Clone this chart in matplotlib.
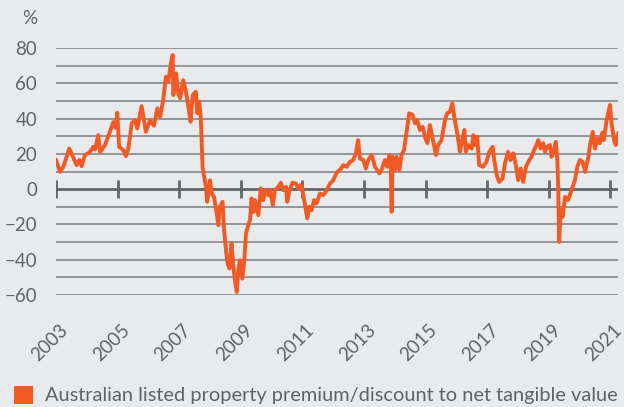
import matplotlib.pyplot as plt
from matplotlib.patches import Rectangle
from matplotlib.transforms import ScaledTranslation

# premium/discount to NTA (decimal year, %)
years = [
    2003.00, 2003.13, 2003.24, 2003.43, 2003.51, 2003.67, 2003.76, 2003.83, 2003.94,
    2004.10, 2004.21, 2004.27, 2004.37, 2004.43, 2004.59, 2004.75, 2004.86, 2004.94,
    2004.99, 2005.05, 2005.19, 2005.27, 2005.35, 2005.46, 2005.56, 2005.64, 2005.78,
    2005.92, 2006.05, 2006.18, 2006.29, 2006.38, 2006.48, 2006.57, 2006.65, 2006.72,
    2006.79, 2006.81, 2006.90, 2006.97, 2007.03, 2007.13, 2007.21, 2007.30, 2007.37,
    2007.44, 2007.54, 2007.59, 2007.65, 2007.70, 2007.76, 2007.81, 2007.87, 2007.91,
    2008.00, 2008.06, 2008.13, 2008.22, 2008.27, 2008.32, 2008.41, 2008.45, 2008.52,
    2008.57, 2008.63, 2008.70, 2008.76, 2008.81, 2008.87, 2008.92, 2008.97, 2009.05,
    2009.11, 2009.17, 2009.24, 2009.30, 2009.35, 2009.41, 2009.46, 2009.57, 2009.65,
    2009.73, 2009.79, 2009.89, 2009.95, 2010.04, 2010.11, 2010.22, 2010.30, 2010.38,
    2010.47, 2010.51, 2010.57, 2010.68, 2010.79, 2010.87, 2010.94, 2011.01, 2011.08,
    2011.16, 2011.22, 2011.30, 2011.38, 2011.46, 2011.57, 2011.68, 2011.79, 2011.90,
    2012.00, 2012.13, 2012.22, 2012.33, 2012.44, 2012.55, 2012.65, 2012.74, 2012.81,
    2012.87, 2012.98, 2013.06, 2013.14, 2013.25, 2013.36, 2013.50, 2013.57, 2013.68,
    2013.76, 2013.82, 2013.87, 2013.90, 2013.93, 2014.01, 2014.06, 2014.15, 2014.22,
    2014.30, 2014.36, 2014.44, 2014.47, 2014.58, 2014.66, 2014.73, 2014.82, 2014.91,
    2014.98, 2015.06, 2015.14, 2015.23, 2015.34, 2015.41, 2015.52, 2015.63, 2015.70,
    2015.79, 2015.87, 2015.95, 2016.03, 2016.12, 2016.19, 2016.26, 2016.31, 2016.39,
    2016.50, 2016.55, 2016.60, 2016.68, 2016.74, 2016.87, 2016.98, 2017.07, 2017.18,
    2017.23, 2017.31, 2017.39, 2017.50, 2017.58, 2017.68, 2017.76, 2017.85, 2017.94,
    2018.01, 2018.09, 2018.17, 2018.26, 2018.37, 2018.44, 2018.52, 2018.58, 2018.66,
    2018.74, 2018.82, 2018.88, 2018.95, 2019.04, 2019.09, 2019.17, 2019.23, 2019.28,
    2019.31, 2019.34, 2019.39, 2019.45, 2019.53, 2019.63, 2019.74, 2019.85, 2019.93,
    2020.01, 2020.10, 2020.18, 2020.29, 2020.34, 2020.43, 2020.50, 2020.58, 2020.66,
    2020.74, 2020.79, 2020.88, 2020.93, 2020.99, 2021.04, 2021.12, 2021.18, 2021.26,
]
premium = [
    16.5, 9.8, 12.7, 23.0, 20.0, 13.6, 16.5, 13.0, 19.3,
    21.0, 24.0, 22.5, 30.6, 21.0, 25.0, 32.5, 38.0, 34.6,
    43.3, 24.0, 22.0, 18.7, 23.0, 37.3, 39.0, 34.4, 47.0,
    32.5, 39.0, 36.0, 45.8, 41.0, 50.5, 63.7, 60.9, 70.4,
    76.0, 53.3, 65.6, 54.3, 51.5, 61.8, 56.0, 46.7, 38.2,
    53.3, 55.2, 43.0, 49.5, 41.0, 12.7, 7.0, 1.3, -7.2,
    5.0, -2.5, -4.4, -13.8, -20.4, -10.0, -7.2, -21.4, -34.6,
    -42.0, -45.0, -30.8, -44.0, -51.6, -58.3, -46.0, -40.3, -50.7,
    -41.2, -25.0, -20.4, -17.6, -5.3, -13.0, -6.2, -14.8, 0.4,
    -6.2, -0.6, -3.4, -0.6, -9.0, -0.6, 1.3, 3.6, -0.6,
    1.3, -7.2, -1.5, 3.6, 3.2, 0.4, 2.3, -1.5, -8.1,
    -16.6, -10.0, -11.9, -6.2, -8.1, -2.5, -3.4, -0.6, 3.2,
    5.0, 9.8, 10.8, 13.6, 12.7, 15.5, 16.5, 20.3, 27.8,
    17.4, 16.5, 11.7, 16.5, 19.3, 12.7, 8.9, 10.8, 16.5,
    12.7, 19.3, 12.7, -12.9, 18.3, 10.8, 18.3, 10.8, 19.3,
    22.0, 29.7, 39.0, 43.0, 42.0, 37.3, 39.0, 33.5, 35.3,
    29.7, 26.0, 36.3, 28.8, 19.3, 25.0, 27.8, 39.0, 43.0,
    43.9, 48.6, 39.0, 31.6, 21.2, 27.8, 33.5, 21.2, 25.0,
    23.0, 30.6, 25.0, 29.7, 13.6, 12.7, 15.5, 21.2, 24.0,
    16.5, 8.0, 4.1, 6.0, 14.6, 21.2, 16.5, 20.3, 12.7,
    5.1, 11.7, 4.1, 12.7, 16.5, 18.3, 22.0, 24.0, 27.8,
    23.0, 26.0, 21.2, 24.0, 25.0, 18.3, 22.0, 26.8, 16.5,
    -0.6, -29.9, -11.9, -15.7, -4.4, -6.2, -0.6, 5.1, 12.7,
    16.5, 15.5, 9.8, 18.3, 25.0, 32.5, 23.0, 28.8, 26.0,
    32.0, 27.8, 39.0, 43.0, 47.7, 37.3, 27.8, 25.0, 31.6,
]

tick_years = [2003, 2005, 2007, 2009, 2011, 2013, 2015, 2017, 2019, 2021]
y_ticks = [-60, -40, -20, 0, 20, 40, 60, 80]
grid_levels = [-60, -50, -40, -30, -20, -10, 10, 20, 30, 40, 50, 60, 70, 80]
legend_label = "Australian listed property premium/discount to net tangible value"

bg = "#e9eaec"
orange = "#f15a24"
text_grey = "#5f6368"

plt.rcParams["font.family"] = ["Lato", "DejaVu Sans"]

fig = plt.figure(figsize=(6.24, 4.07), dpi=100, facecolor=bg)
ax = fig.add_axes([56 / 624, 1 - 295 / 407, (618 - 56) / 624, (295 - 48) / 407])
ax.set_facecolor(bg)

for lv in grid_levels:
    ax.axhline(lv, color="#8b8e92", lw=1.3, zorder=1)
ax.axhline(0, color="#63666b", lw=2, zorder=1)
ax.plot(tick_years, [0] * len(tick_years), ls="none", marker="|", ms=13, mew=2,
        color="#63666b", zorder=1)

ax.plot(years, premium, color=orange, lw=2.8, solid_joinstyle="round", zorder=3)

ax.set_xlim(2003, 2021.25)
ax.set_ylim(-60, 80)
for s in ax.spines.values():
    s.set_visible(False)

ax.set_yticks(y_ticks)
ax.tick_params(axis="y", length=0, pad=13.5, labelsize=13.5, labelcolor=text_grey)

ax.set_xticks(tick_years)
ax.set_xticklabels([str(y) for y in tick_years], rotation=45, ha="right",
                   rotation_mode="anchor")
ax.tick_params(axis="x", length=0, pad=19, labelsize=13.5, labelcolor=text_grey)
shift = ScaledTranslation(3 / 100, 0, fig.dpi_scale_trans)
for lab in ax.get_xticklabels():
    lab.set_transform(lab.get_transform() + shift)

fig.text(37 / 624, 1 - 18 / 407, "%", ha="right", va="center", fontsize=13.5,
         color=text_grey)

fig.add_artist(Rectangle((14 / 624, 1 - 404 / 407), 19 / 624, 18 / 407,
                         transform=fig.transFigure, color=orange, lw=0))
fig.text(45 / 624, 1 - 395 / 407, legend_label, ha="left", va="center",
         fontsize=14.4, color=text_grey)

fig.savefig("out.png", dpi=100, facecolor=bg)
